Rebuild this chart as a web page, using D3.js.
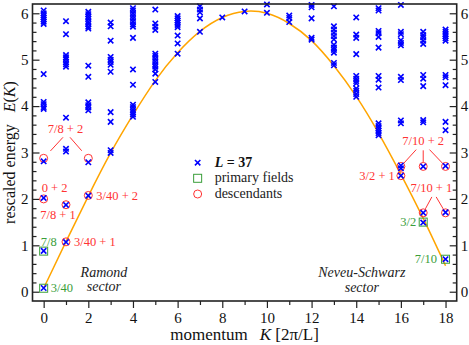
<!DOCTYPE html>
<html>
<head>
<meta charset="utf-8">
<script src="https://cdn.jsdelivr.net/npm/d3@7"></script>
<style>
  body { margin: 0; background: #fff; }
  svg { display: block; }
</style>
</head>
<body>
<div id="chart"></div>
<script>
// momentum K in units of 2pi/L, and the numerical levels read at each K (L = 37)
var momenta = [0, 1, 2, 3, 4, 5, 6, 7, 8, 9, 10, 11, 12, 13, 14, 15, 16, 17, 18];
var levels = [
  [6.06, 6.00, 5.95, 5.91, 5.87, 5.82, 5.77, 4.69, 4.09, 4.04, 3.98, 3.94, 2.81, 2.02, 0.88, 0.08],
  [5.83, 5.55, 5.10, 5.05, 5.01, 4.95, 4.90, 4.85, 3.75, 3.08, 3.02, 1.87, 1.07],
  [6.03, 5.98, 5.93, 5.88, 5.82, 5.77, 5.71, 5.67, 4.87, 4.63, 4.08, 4.02, 3.97, 3.91, 2.79, 2.07],
  [5.80, 5.72, 5.41, 5.06, 5.00, 4.95, 4.89, 4.74, 3.87, 3.66, 3.05, 2.99],
  [6.11, 6.06, 6.00, 5.94, 5.88, 5.82, 5.76, 5.71, 5.47, 4.79, 4.46, 4.03, 3.98, 3.92, 3.87, 3.82, 3.77],
  [6.08, 5.78, 5.71, 5.64, 5.13, 5.08, 5.02, 4.96, 4.90, 4.85, 4.79, 4.70, 4.52],
  [5.94, 5.89, 5.84, 5.80, 5.75, 5.70, 5.52, 5.35, 5.13],
  [6.15, 6.08, 6.02, 5.89, 5.60],
  [5.91],
  [6.04],
  [6.19, 6.01],
  [5.95, 5.90, 5.81],
  [6.18, 6.13, 5.89, 5.47, 5.43],
  [6.15, 5.72, 5.65, 5.58, 5.51, 5.44, 5.32, 5.26, 5.21, 5.15, 4.93, 4.88],
  [5.91, 5.54, 5.47, 5.12, 4.65, 4.59, 4.54, 4.49, 4.38, 4.33, 4.26, 4.20],
  [6.11, 6.06, 5.62, 5.57, 5.49, 5.26, 4.65, 4.57, 4.40, 3.63, 3.57, 3.52, 3.47, 3.42, 3.37],
  [6.18, 5.60, 5.55, 5.42, 5.36, 5.31, 4.63, 4.56, 3.69, 3.63, 2.72, 2.66, 2.50],
  [5.60, 5.53, 5.48, 5.41, 5.34, 4.67, 4.59, 4.43, 3.70, 3.65, 2.70, 1.70, 1.49],
  [5.65, 5.60, 5.55, 5.51, 5.46, 5.41, 4.67, 4.62, 4.45, 3.66, 3.48, 2.71, 1.71, 0.70]
];

// primary fields (squares) and descendants (circles)
var primaryK = [0, 0, 17, 18];
var primaryE = [0.075, 0.875, 1.5, 0.7];
var primaryNames = ["3/40", "7/8", "3/2", "7/10"];
var descK = [0, 0, 1, 1, 2, 2, 16, 16, 17, 18, 17, 18];
var descE = [2.0, 2.875, 1.075, 1.875, 2.075, 2.875, 2.5, 2.7, 2.7, 2.7, 1.7, 1.7];

var curveK = [0, 1, 2, 3, 4, 5, 6, 7, 8, 9, 10, 11, 12, 13, 14, 15, 16, 17, 18];
var curveE = [0.075, 1.08, 2.06, 2.99, 3.81, 4.55, 5.15, 5.61, 5.91, 6.04, 6.00, 5.78, 5.41, 4.87, 4.21, 3.42, 2.53, 1.58, 0.56];

var xTicks = [0, 2, 4, 6, 8, 10, 12, 14, 16, 18];
var xMinor = [1, 3, 5, 7, 9, 11, 13, 15, 17];
var yTicks = [0, 1, 2, 3, 4, 5, 6];

var blue = "#0000ff", red = "#ff3333", green = "#3a9e3a", orange = "#ffa500";
var serif = "'Liberation Serif', 'Times New Roman', serif";

var margin = { top: 4, right: 12.3, bottom: 44, left: 32.5 };
var width = 469 - margin.left - margin.right;
var height = 345 - margin.top - margin.bottom;

var svg = d3.select("#chart").append("svg")
    .attr("width", width + margin.left + margin.right)
    .attr("height", height + margin.top + margin.bottom)
    .style("font-family", serif);

var plot = svg.append("g")
    .attr("transform", "translate(" + margin.left + "," + margin.top + ")");

var x = d3.scaleLinear().domain([-0.5, 18.5]).range([0, width]);
var y = d3.scaleLinear().domain([-0.2, 6.2]).range([height, 0]);

// minor y ticks every 0.2
var yMinor = [];
for (var v = 2; v < 62; v += 2) { if (v % 10 != 0) yMinor.push(v / 10); }

// --- axes (ticks on y point inward, on x outward)
function styleAxis(g) {
  g.select(".domain").remove();
  g.selectAll("line").attr("stroke", "#222").attr("stroke-width", 1.2);
  g.selectAll("text").attr("fill", "#111").style("font-size", "15px")
    .style("font-family", serif);
}

plot.append("g").attr("transform", "translate(0," + height + ")")
    .call(d3.axisBottom(x).tickValues(xTicks).tickSize(7).tickPadding(4).tickFormat(d3.format("d")))
    .call(styleAxis);
plot.append("g").attr("transform", "translate(0," + height + ")")
    .call(d3.axisBottom(x).tickValues(xMinor).tickSize(4).tickFormat(""))
    .call(styleAxis);

plot.append("g")
    .call(d3.axisLeft(y).tickValues(yTicks).tickSizeInner(-7).tickSizeOuter(0).tickPadding(4).tickFormat(d3.format("d")))
    .call(styleAxis);
plot.append("g")
    .call(d3.axisLeft(y).tickValues(yMinor).tickSizeInner(-4).tickSizeOuter(0).tickFormat(""))
    .call(styleAxis);

plot.append("g").attr("transform", "translate(" + width + ",0)")
    .call(d3.axisRight(y).tickValues(yTicks).tickSizeInner(-7).tickSizeOuter(0).tickPadding(4).tickFormat(d3.format("d")))
    .call(styleAxis);
plot.append("g").attr("transform", "translate(" + width + ",0)")
    .call(d3.axisRight(y).tickValues(yMinor).tickSizeInner(-4).tickSizeOuter(0).tickFormat(""))
    .call(styleAxis);

// --- curve
var line = d3.line()
    .x(function(d, i) { return x(curveK[i]); })
    .y(function(d) { return y(d); })
    .curve(d3.curveNatural);

plot.append("path")
    .datum(curveE)
    .attr("d", line)
    .attr("fill", "none")
    .attr("stroke", orange)
    .attr("stroke-width", 1.5);

// --- primaries and descendants
plot.selectAll(".prim")
    .data(primaryE)
  .enter().append("rect")
    .attr("class", "prim")
    .attr("x", function(d, i) { return x(primaryK[i]) - 4; })
    .attr("y", function(d) { return y(d) - 4; })
    .attr("width", 8).attr("height", 8)
    .attr("fill", "none")
    .attr("stroke", green)
    .attr("stroke-width", 1);

plot.selectAll(".desc")
    .data(descE)
  .enter().append("circle")
    .attr("class", "desc")
    .attr("cx", function(d, i) { return x(descK[i]); })
    .attr("cy", function(d) { return y(d); })
    .attr("r", 4)
    .attr("fill", "none")
    .attr("stroke", red)
    .attr("stroke-width", 1);

// --- numerical levels (x markers)
var points = [];
momenta.forEach(function(k, i) {
  levels[i].forEach(function(e) { points.push({ k: k, e: e }); });
});

var s = 2.7;
var xMark = "M" + (-s) + "," + (-s) + "L" + s + "," + s + "M" + (-s) + "," + s + "L" + s + "," + (-s);

plot.selectAll(".lvl")
    .data(points)
  .enter().append("path")
    .attr("class", "lvl")
    .attr("transform", function(d) { return "translate(" + x(d.k) + "," + y(d.e) + ")"; })
    .attr("d", xMark)
    .attr("fill", "none")
    .attr("stroke", blue)
    .attr("stroke-width", 1.6);

// frame
plot.append("rect")
    .attr("width", width).attr("height", height)
    .attr("fill", "none")
    .attr("stroke", "#222")
    .attr("stroke-width", 1.6);

// --- annotations
function note(txt, px, py, color, anchor) {
  plot.append("text")
      .attr("x", px).attr("y", py)
      .attr("fill", color)
      .attr("text-anchor", anchor || "start")
      .style("font-size", "12.5px")
      .text(txt);
}

function leader(x1, y1, k, e, gap) {
  var x2 = x(k), y2 = y(e);
  var dx = x2 - x1, dy = y2 - y1;
  var f = (Math.sqrt(dx * dx + dy * dy) - gap) / Math.sqrt(dx * dx + dy * dy);
  plot.append("line")
      .attr("x1", x1).attr("y1", y1)
      .attr("x2", x1 + dx * f).attr("y2", y1 + dy * f)
      .attr("stroke", red)
      .attr("stroke-width", 1);
}

// primaries
note(primaryNames[0], x(0) + 7, y(primaryE[0]) + 4, green);
note(primaryNames[1], x(0) - 3, y(primaryE[1]) - 5.5, green);
note(primaryNames[2], x(17) - 7, y(primaryE[2]) + 4, green, "end");
note(primaryNames[3], x(18) - 8.5, y(primaryE[3]) + 3.5, green, "end");

// Ramond descendants
var rb = y(2.875) - 25.5;
note("7/8 + 2", x(1) - 0.5, rb, red, "middle");
leader(x(1) - 3, rb + 4.5, 0, 2.875, 10);
leader(x(1) + 4, rb + 4.5, 2, 2.875, 10);
note("0 + 2", x(0) - 2, y(2.0) - 7, red);
note("7/8 + 1", x(0) - 3.5, y(1.875) + 14, red);
note("3/40 + 2", x(2) + 8, y(2.075) + 5, red);
note("3/40 + 1", x(1) + 8, y(1.075) + 4, red);

// Neveu-Schwarz descendants
var nb = y(2.7) - 21.5;
note("7/10 + 2", x(17), nb, red, "middle");
leader(x(17) - 7, nb + 4.7, 16, 2.7, 4.5);
leader(x(17), nb + 5.4, 17, 2.7, 4.5);
leader(x(17) + 6.3, nb + 4.7, 18, 2.7, 4.5);
note("3/2 + 1", x(16) - 6, y(2.5) + 4, red, "end");
var mb = y(1.7) - 20.5;
note("7/10 + 1", x(17.5) - 3, mb, red, "middle");
leader(x(17.5) - 2.5, mb + 4.6, 17, 1.7, 4.5);
leader(x(17.5) + 1.8, mb + 4.6, 18, 1.7, 4.5);

// sector names
function sector(lines, cx, by) {
  lines.forEach(function(t, i) {
    plot.append("text")
        .attr("x", cx).attr("y", by + i * 14.5)
        .attr("text-anchor", "middle")
        .attr("fill", "#222")
        .style("font-size", "14px")
        .style("font-style", "italic")
        .text(t);
  });
}
sector(["Ramond", "sector"], x(2.7), y(0.3) - 1);
sector(["Neveu-Schwarz", "sector"], x(14.25), y(0.3) - 0.5);

// --- legend
var legend = plot.append("g").attr("transform", "translate(" + (x(7) - 2.3) + "," + (y(3.0) + 10.2) + ")");
legend.append("path").attr("d", xMark).attr("fill", "none").attr("stroke", blue).attr("stroke-width", 1.6);
legend.append("rect").attr("x", -4).attr("y", 11.6).attr("width", 8).attr("height", 8)
    .attr("fill", "none").attr("stroke", green).attr("stroke-width", 1);
legend.append("circle").attr("cx", 0).attr("cy", 31.3).attr("r", 4)
    .attr("fill", "none").attr("stroke", red).attr("stroke-width", 1);

var lt = legend.append("text").attr("x", 17).attr("y", 4.5).style("font-size", "14px").style("font-weight", "bold").attr("fill", "#111");
lt.append("tspan").style("font-style", "italic").text("L");
lt.append("tspan").text(" = 37");
legend.append("text").attr("x", 17).attr("y", 19.5).style("font-size", "14px").attr("fill", "#222").text("primary fields");
legend.append("text").attr("x", 17).attr("y", 35).style("font-size", "14px").attr("fill", "#222").text("descendants");

// --- axis titles
var xt = svg.append("text")
    .attr("x", margin.left + x(9))
    .attr("y", 340)
    .attr("text-anchor", "middle")
    .attr("fill", "#111")
    .style("font-size", "17px");
xt.append("tspan").text("momentum");
xt.append("tspan").attr("dx", 12).style("font-style", "italic").text("K");
xt.append("tspan").text(" [2\u03c0/L]");

var yt = svg.append("text")
    .attr("transform", "translate(15," + (margin.top + height / 2) + ") rotate(-90)")
    .attr("text-anchor", "middle")
    .attr("fill", "#111")
    .style("font-size", "16px");
yt.append("tspan").text("rescaled energy");
yt.append("tspan").attr("dx", 12).style("font-style", "italic").text("E");
yt.append("tspan").text("(");
yt.append("tspan").style("font-style", "italic").text("K");
yt.append("tspan").text(")");
</script>
</body>
</html>
